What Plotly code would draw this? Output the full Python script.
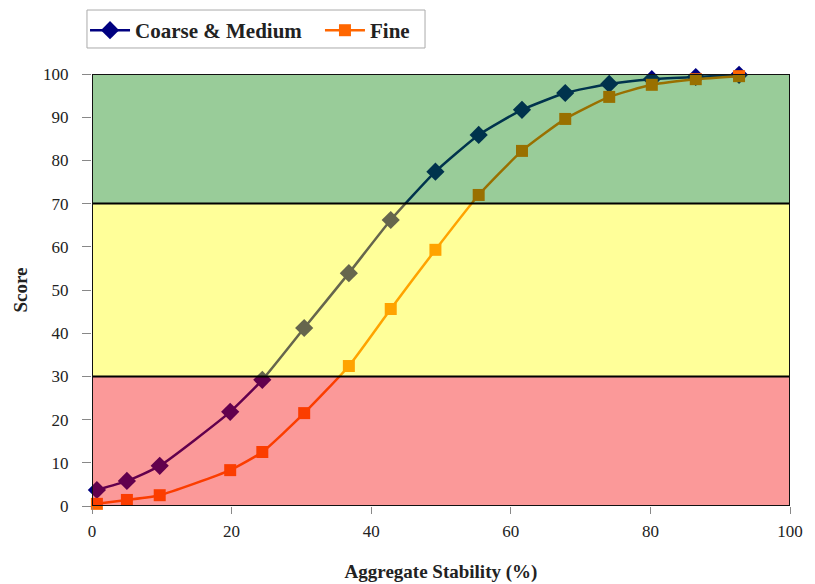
import plotly.graph_objects as go

stability = [0.7, 5.0, 9.7, 19.8, 24.4, 30.4, 36.8, 42.8, 49.2, 55.4, 61.6, 67.8, 74.1, 80.2, 86.5, 92.7]
coarse_medium = [3.7, 5.8, 9.3, 21.8, 29.2, 41.2, 53.9, 66.2, 77.4, 85.9, 91.7, 95.6, 97.7, 98.8, 99.3, 99.8]
fine = [0.5, 1.4, 2.5, 8.3, 12.5, 21.5, 32.4, 45.6, 59.3, 72.0, 82.2, 89.6, 94.7, 97.5, 98.8, 99.5]

bands = [(0, 30, "rgb(245,0,0)"), (30, 70, "rgb(255,255,0)"), (70, 100, "rgb(0,128,0)")]
band_opacity = 0.4

FONT = "Liberation Serif"

fig = go.Figure()
fig.add_trace(go.Scatter(
    x=stability, y=coarse_medium, name="Coarse & Medium", mode="lines+markers",
    line=dict(color="#000080", width=2.5, shape="spline", smoothing=0.5),
    marker=dict(symbol="diamond", size=14, color="#000080"),
    cliponaxis=False, legend="legend",
))
fig.add_trace(go.Scatter(
    x=stability, y=fine, name="Fine", mode="lines+markers",
    line=dict(color="#FF6600", width=2.5, shape="spline", smoothing=0.5),
    marker=dict(symbol="square", size=12, color="#FF6600"),
    cliponaxis=False, legend="legend2",
))

shapes = []
for lo, hi, col in bands:
    shapes.append(dict(type="rect", xref="x", yref="y", x0=0, x1=100, y0=lo, y1=hi,
                       fillcolor=col, opacity=band_opacity, line=dict(width=0), layer="above"))
for yv in [30, 70]:
    shapes.append(dict(type="line", xref="x", yref="y", x0=0, x1=100, y0=yv, y1=yv,
                       line=dict(color="black", width=2), layer="above"))
shapes.append(dict(type="rect", xref="x", yref="y", x0=0, x1=100, y0=0, y1=100,
                   line=dict(color="#111", width=2), layer="above"))
# legend frame
shapes.append(dict(type="rect", xref="paper", yref="paper", x0=-0.0072, x1=0.4771,
                   y0=1.0602, y1=1.1481, fillcolor="white",
                   line=dict(color="#aaaaaa", width=1), layer="below"))

legend_common = dict(orientation="h", yanchor="top", y=1.148, xanchor="left",
                     bgcolor="rgba(0,0,0,0)", borderwidth=0,
                     font=dict(family=FONT, size=21, color="#222", weight="bold"),
                     itemwidth=40)

fig.update_layout(
    width=815, height=584,
    margin=dict(l=84, r=33, t=66, b=86, autoexpand=False),
    paper_bgcolor="white", plot_bgcolor="white",
    font=dict(family=FONT, size=17, color="#222"),
    shapes=shapes,
    showlegend=True,
    legend=dict(x=-0.010, **legend_common),
    legend2=dict(x=0.3266, **legend_common),
    xaxis=dict(range=[0, 100], dtick=20, tick0=0, showgrid=False, zeroline=False,
               ticks="outside", ticklen=7, tickcolor="#888", showline=False,
               ticklabelstandoff=3,
               tickfont=dict(family=FONT, size=17, color="#222"),
               title=dict(text="<b>Aggregate Stability (%)</b>",
                          font=dict(family=FONT, size=19, color="#222"), standoff=24)),
    yaxis=dict(range=[0, 100], dtick=10, tick0=0, showgrid=False, zeroline=False,
               ticks="outside", ticklen=9, tickcolor="#888", showline=False,
               ticklabelstandoff=10,
               tickfont=dict(family=FONT, size=17, color="#222"),
               title=dict(text="<b>Score</b>",
                          font=dict(family=FONT, size=19, color="#222"), standoff=10)),
)

fig.write_html("out.html")
